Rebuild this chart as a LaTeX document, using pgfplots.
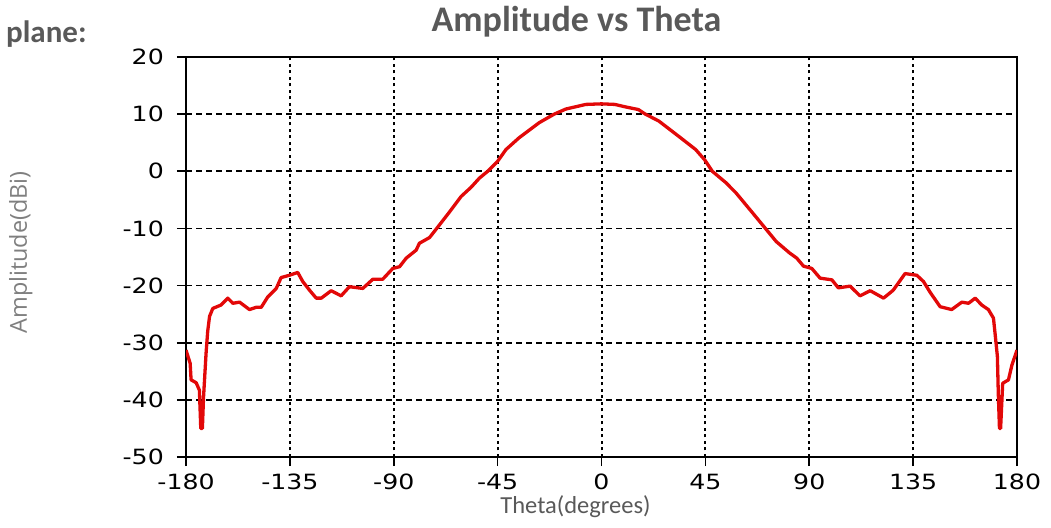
\documentclass[border=0pt]{standalone}
\usepackage{pgfplots}
\pgfplotsset{compat=1.18}
\usepackage{fontspec}
\setmainfont{Carlito}
\newfontfamily\tickfont[FakeStretch=1.2]{DejaVu Sans}
\newfontfamily\ylabfont{Open Sans}
\definecolor{titlegray}{HTML}{595959}
\definecolor{labgray}{HTML}{7F7F7F}
\definecolor{curvered}{RGB}{226,8,8}
\begin{document}
\begin{tikzpicture}
\useasboundingbox (0,0) rectangle (1051pt,527pt);
\begin{axis}[
  at={(186pt,70pt)}, anchor=south west,
  width=831pt, height=400pt, scale only axis,
  xmin=-180, xmax=180, ymin=-50, ymax=20,
  xtick={-180,-135,-90,-45,0,45,90,135,180},
  xticklabels={-180,-135,-90,-45,0,45,90,135,180},
  ytick={-50,-40,-30,-20,-10,0,10,20},
  yticklabels={-50,-40,-30,-20,-10,0,10,20},
  xtick pos=bottom, ytick pos=left,
  tick align=outside,
  major tick length=9pt,
  every tick/.style={black, line width=1.6pt},
  axis line style={black, line width=2.2pt},
  grid=major,
  major x grid style={black, line width=2pt, dash pattern=on 3pt off 3.5pt},
  major y grid style={black, line width=1.8pt, dash pattern=on 6pt off 4pt},
  ticklabel style={font=\tickfont\fontsize{21pt}{22pt}\selectfont, text=black},
  xticklabel style={inner sep=0pt, anchor=north, yshift=-8pt},
  yticklabel style={inner sep=0pt, anchor=east, xshift=-13pt},
]
\addplot[curvered, line width=3.3pt, line join=round] coordinates {
(-180,-31.3) (-178.2,-33.6) (-177.8,-36.5) (-175.6,-37) (-174.2,-38.3)
(-173.6,-45) (-172.9,-45) (-172.4,-39.5) (-171.3,-31.8) (-170.6,-28)
(-169.8,-25.4) (-168.4,-24) (-164.8,-23.4) (-161.9,-22.2) (-159.7,-23.1)
(-156.8,-22.9) (-152.5,-24.2) (-149.6,-23.8) (-147.4,-23.8) (-144.6,-22)
(-140.9,-20.5) (-138.8,-18.6) (-135.2,-18.2) (-131.6,-17.7) (-129.4,-19.3)
(-126.5,-20.8) (-123.6,-22.2) (-121.4,-22.2) (-117.1,-20.9) (-112.8,-21.8)
(-109.2,-20.2) (-103.4,-20.5) (-99.1,-18.9) (-94.8,-18.9) (-90.4,-17)
(-87.5,-16.7) (-84.6,-15.2) (-80.3,-13.8) (-78.9,-12.6) (-74.5,-11.6)
(-71,-9.8) (-66,-7.2) (-60.8,-4.4) (-56.5,-2.8) (-52.9,-1.2) (-49.3,0)
(-45,1.75) (-41.4,3.8) (-35.6,5.9) (-27,8.5) (-20.5,10) (-15.4,10.9)
(-10,11.4) (-6.8,11.7) (0,11.8) (5.8,11.7) (10,11.3) (16,10.8) (19,10)
(24.8,8.8) (33.5,6.1) (40.8,3.8) (44.7,2.0) (48,0) (53.9,-2) (58.3,-3.8)
(65.5,-7.3) (70.6,-9.8) (75.7,-12.3) (81.5,-14.3) (84.6,-15.2) (87.5,-16.6) (91.1,-17)
(94.7,-18.7) (99.8,-19) (102.6,-20.4) (107.7,-20.1) (112,-21.8)
(116.4,-20.9) (122.2,-22.2) (126.4,-20.8) (131.5,-17.9) (136.6,-18.2)
(139.5,-19.3) (142.4,-21.2) (146.7,-23.7) (151.7,-24.2) (156.1,-22.9)
(159,-23.1) (161.9,-22.2) (164.7,-23.4) (167.6,-24.2) (169.8,-25.7)
(170.5,-28.4) (171.5,-32.4) (171.9,-38.9) (172.4,-45) (172.9,-45)
(173.8,-37.1) (176.3,-36.5) (177.8,-33.9) (180,-31.3)
};
\end{axis}
\node[anchor=base, inner sep=0pt, text=titlegray, font=\fontsize{36pt}{40pt}\selectfont\bfseries] at (576.5pt,495.3pt) {Amplitude vs Theta};
\node[anchor=base west, inner sep=0pt, text=titlegray, font=\fontsize{31pt}{36pt}\selectfont\bfseries] at (6pt,484.3pt) {plane:};
\node[anchor=base, inner sep=0pt, text=titlegray, font=\fontsize{24.5pt}{30pt}\selectfont] at (575.5pt,13pt) {Theta(degrees)};
\node[rotate=90, anchor=base, inner sep=0pt, text=labgray, font=\ylabfont\fontsize{23.4pt}{28pt}\selectfont] at (27pt,274.5pt) {Amplitude(dBi)};
\end{tikzpicture}
\end{document}
